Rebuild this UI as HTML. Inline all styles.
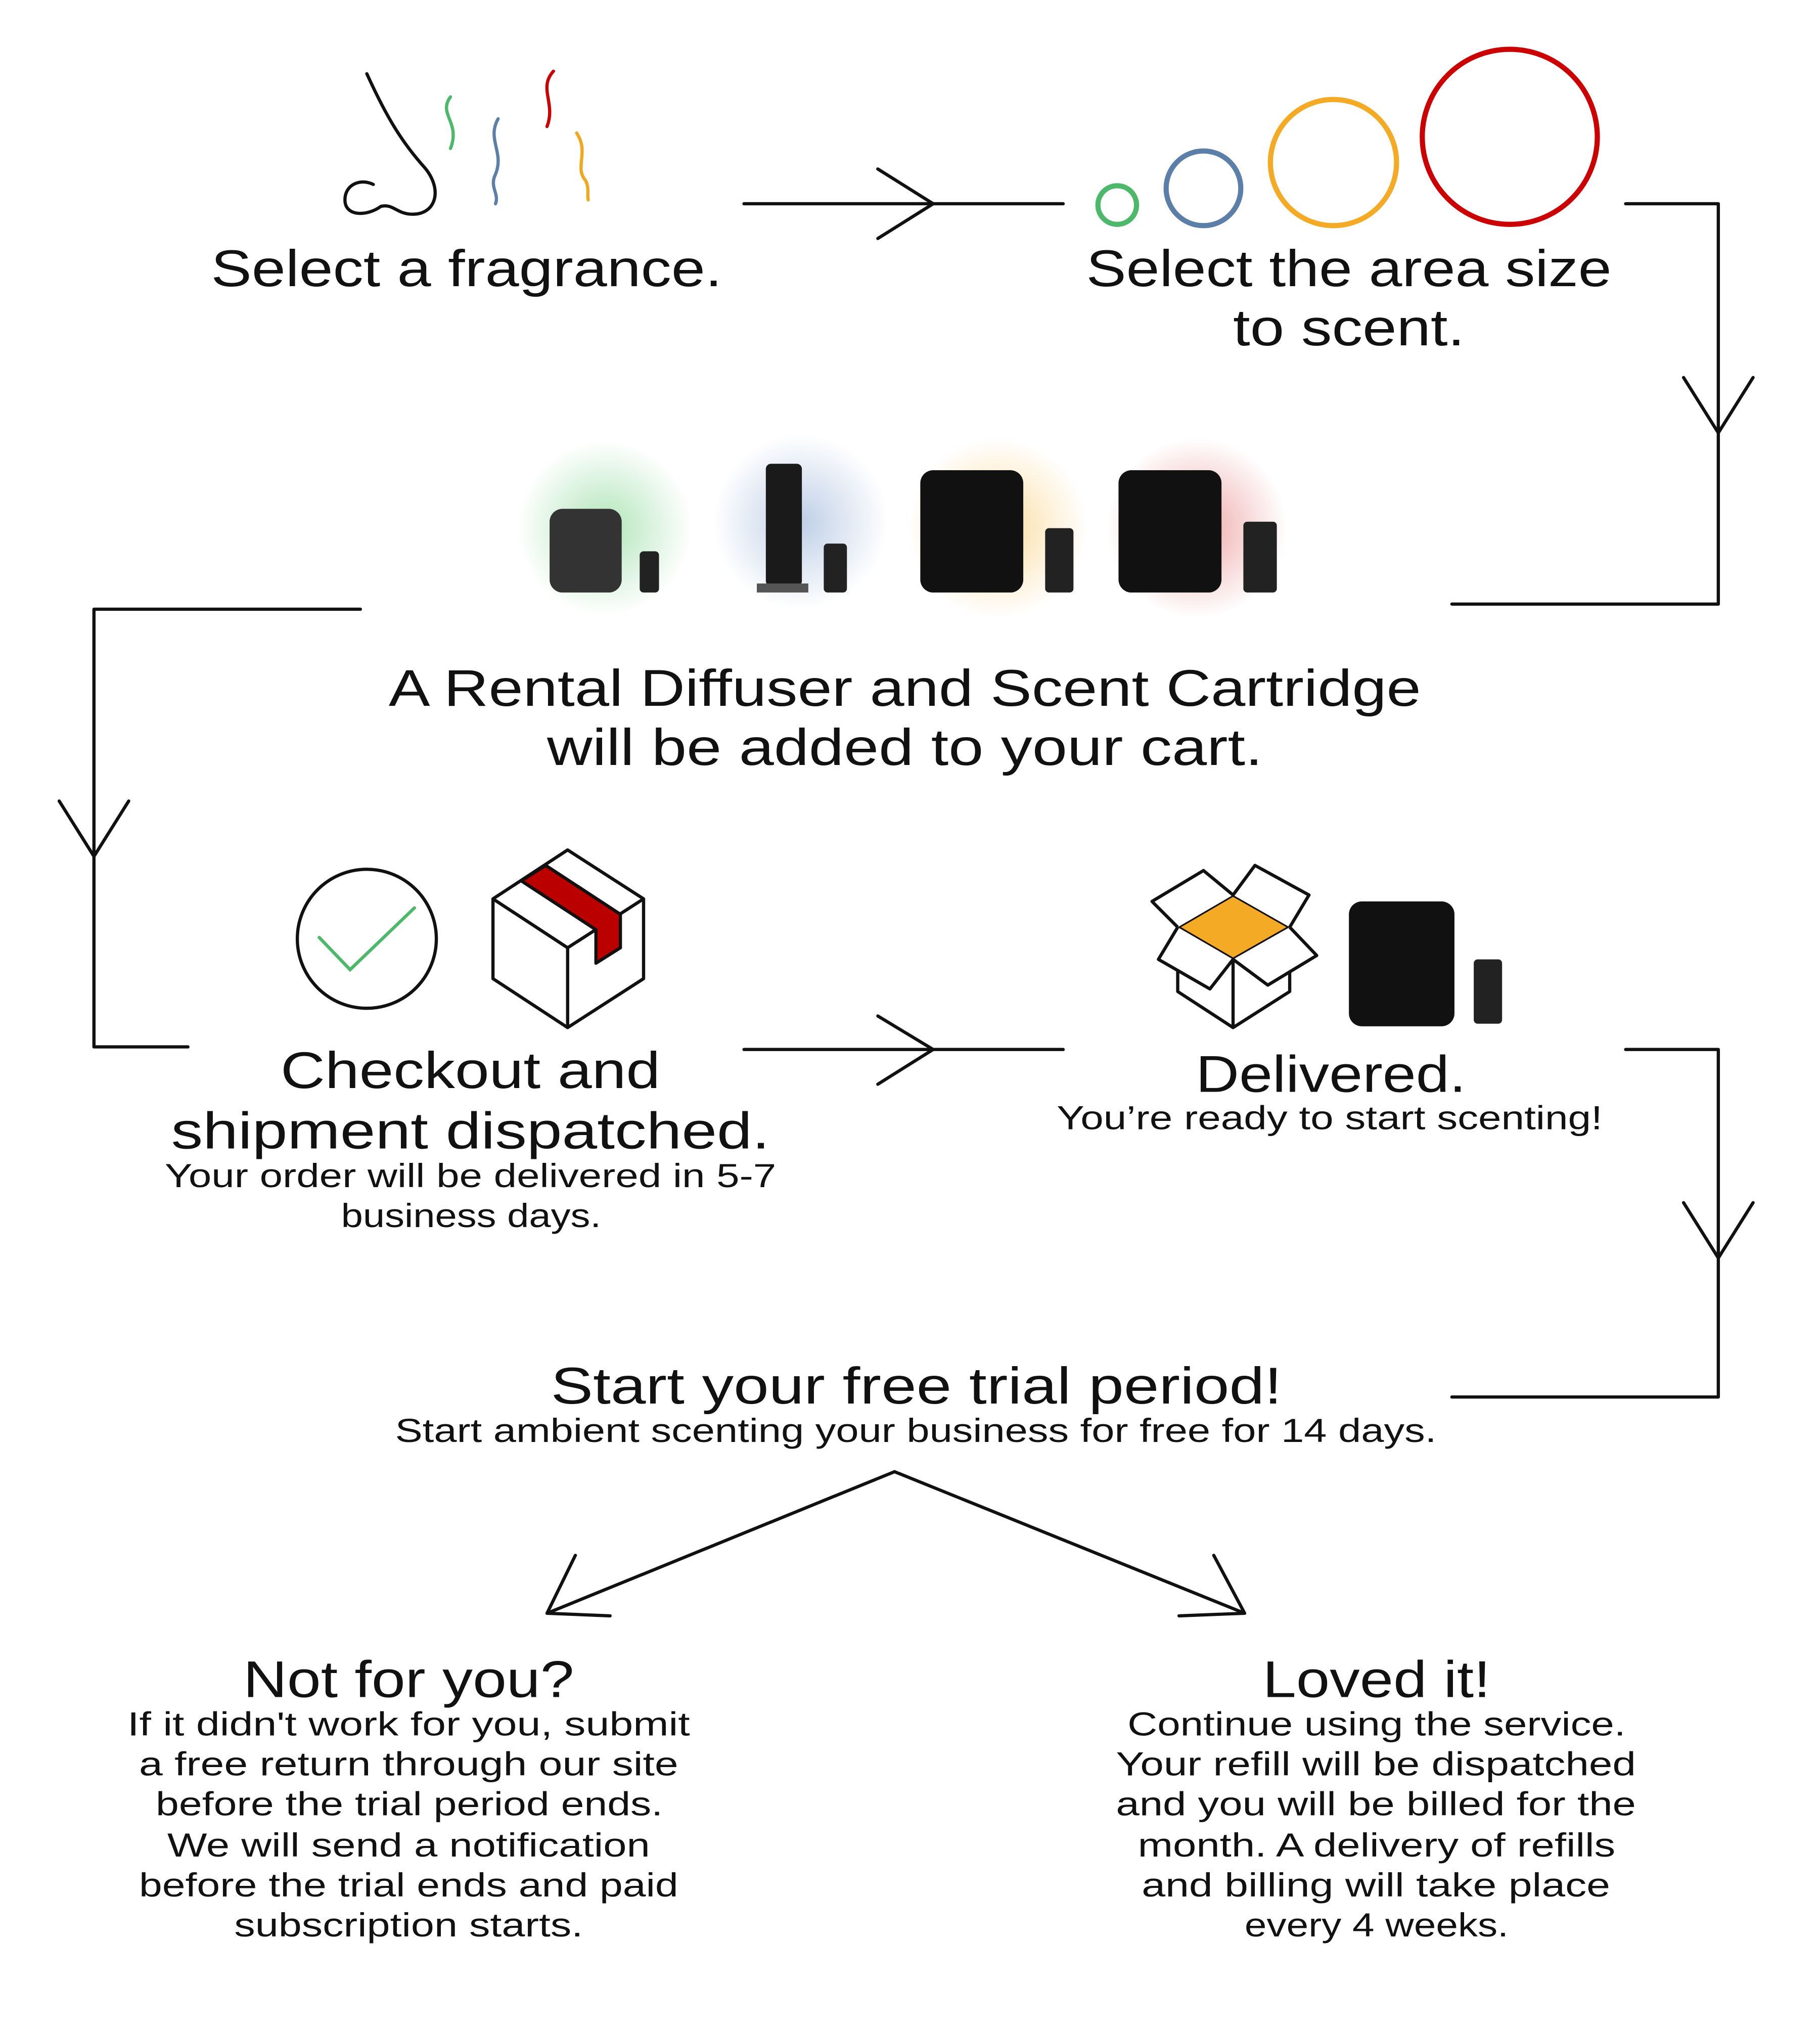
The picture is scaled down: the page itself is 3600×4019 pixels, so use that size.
<!DOCTYPE html>
<html><head><meta charset="utf-8"><style>
html,body{margin:0;padding:0;background:#fff;}
svg{display:block;}
text{font-family:"Liberation Sans",sans-serif;fill:#111;}
.h{font-size:40px;}
.s{font-size:26px;}
</style></head><body>
<svg width="3600" height="4019" viewBox="0 0 1414 1578" xmlns="http://www.w3.org/2000/svg">
<defs>
<radialGradient id="gG"><stop offset="0" stop-color="#6fcf7f" stop-opacity=".55"/><stop offset="1" stop-color="#6fcf7f" stop-opacity="0"/></radialGradient>
<radialGradient id="gB"><stop offset="0" stop-color="#7f9fcf" stop-opacity=".5"/><stop offset="1" stop-color="#7f9fcf" stop-opacity="0"/></radialGradient>
<radialGradient id="gO"><stop offset="0" stop-color="#f7c050" stop-opacity=".55"/><stop offset="1" stop-color="#f7c050" stop-opacity="0"/></radialGradient>
<radialGradient id="gR"><stop offset="0" stop-color="#e06060" stop-opacity=".55"/><stop offset="1" stop-color="#e06060" stop-opacity="0"/></radialGradient>
</defs>
<g fill="none" stroke="#111" stroke-width="2.5" stroke-linecap="round" stroke-linejoin="round">
<!-- nose -->
<path d="M285,57 C300,90 312,110 330,130 C345,148 338,168 318,166 C308,165 305,158 296,160 C285,168 268,168 268,155 C268,143 280,138 290,143"/>
<!-- arrows -->
<path d="M578,158 H826 M682,131 L725,158 L682,185"/>
<path d="M1263,158 H1335 V469 H1128 M1308,293 L1335,336 L1362,293"/>
<path d="M280,473 H73 V813 H146 M46,622 L73,665 L100,622"/>
<path d="M578,815 H826 M682,789 L725,815 L682,842"/>
<path d="M1263,815 H1335 V1085 H1128 M1308,934 L1335,977 L1362,934"/>
<path d="M695,1143 L425,1253 M447,1208 L425,1253 L474,1255"/>
<path d="M695,1143 L967,1253 M943,1208 L967,1253 L916,1255"/>
<!-- check -->
<circle cx="285" cy="729" r="54"/>
</g>
<g fill="none" stroke-width="2.5" stroke-linecap="round">
<path d="M350,75 C340,88 358,95 350,115" stroke="#4cb86a"/>
<path d="M387,92 C378,108 392,118 385,135 C380,145 388,150 385,158" stroke="#5b7fa8"/>
<path d="M430,55 C418,68 432,80 425,98" stroke="#c00"/>
<path d="M448,103 C458,118 446,130 455,140 C458,146 456,152 457,155" stroke="#f0a820"/>
<path d="M248,728 L272,753 L322,705" stroke="#4cb86a"/>
</g>
<g fill="none" stroke-width="4">
<circle cx="868" cy="159" r="15" stroke="#4cb86a"/>
<circle cx="935" cy="146" r="29" stroke="#5b7fa8"/>
<circle cx="1036" cy="126" r="49" stroke="#f5aa25"/>
<circle cx="1173" cy="106" r="68" stroke="#c00"/>
</g>
<!-- products -->
<circle cx="470" cy="410" r="68" fill="url(#gG)"/>
<circle cx="622" cy="405" r="68" fill="url(#gB)"/>
<circle cx="775" cy="410" r="70" fill="url(#gO)"/>
<circle cx="930" cy="410" r="70" fill="url(#gR)"/>
<rect x="427" y="395" width="56" height="65" rx="10" fill="#333"/>
<rect x="497" y="428" width="15" height="32" rx="3" fill="#222"/>
<rect x="595" y="360" width="28" height="95" rx="4" fill="#1a1a1a"/>
<rect x="588" y="453" width="40" height="7" fill="#555"/>
<rect x="640" y="422" width="18" height="38" rx="3" fill="#222"/>
<rect x="715" y="365" width="80" height="95" rx="10" fill="#111"/>
<rect x="812" y="410" width="22" height="50" rx="3" fill="#222"/>
<rect x="869" y="365" width="80" height="95" rx="10" fill="#111"/>
<rect x="966" y="405" width="26" height="55" rx="3" fill="#222"/>
<!-- closed box -->
<g stroke="#111" stroke-width="2.5" stroke-linejoin="round">
<path d="M383,698 L441,660 L500,698 L500,760 L441,798 L383,760 Z" fill="#fff"/>
<path d="M383,698 L441,736 L500,698 M441,736 V798" fill="none"/>
<path d="M405,684 L463,722 L463,748 L482,736 L482,710 L424,672 Z" fill="#b00"/>
</g>
<!-- open box -->
<g stroke="#111" stroke-width="2.5" stroke-linejoin="round">
<path d="M915,720 L958,695 L1002,720 L958,745 Z" fill="#f5aa25"/>
<path d="M915,720 V770 L958,798 L1002,770 V720 L958,745 Z" fill="#fff"/>
<path d="M958,745 V798" fill="none"/>
<path d="M915,720 L895,700 L935,676 L958,695" fill="#fff"/>
<path d="M958,695 L975,672 L1017,695 L1002,720" fill="#fff"/>
<path d="M915,720 L900,745 L940,768 L958,745" fill="#fff"/>
<path d="M1002,720 L1023,742 L985,765 L958,745" fill="#fff"/>
</g>
<rect x="1048" y="700" width="82" height="97" rx="10" fill="#111"/>
<rect x="1145" y="745" width="22" height="50" rx="3" fill="#222"/>
<!-- text -->
<text class="h" x="164" y="222" textLength="397" lengthAdjust="spacingAndGlyphs">Select a fragrance.</text>
<text class="h" x="844" y="222" textLength="408" lengthAdjust="spacingAndGlyphs">Select the area size</text>
<text class="h" x="958" y="268" textLength="180" lengthAdjust="spacingAndGlyphs">to scent.</text>
<text class="h" x="302" y="548" textLength="802" lengthAdjust="spacingAndGlyphs">A Rental Diffuser and Scent Cartridge</text>
<text class="h" x="425" y="594" textLength="556" lengthAdjust="spacingAndGlyphs">will be added to your cart.</text>
<text class="h" x="218" y="845" textLength="295" lengthAdjust="spacingAndGlyphs">Checkout and</text>
<text class="h" x="133" y="892" textLength="465" lengthAdjust="spacingAndGlyphs">shipment dispatched.</text>
<text class="s" x="128" y="922" textLength="475" lengthAdjust="spacingAndGlyphs">Your order will be delivered in 5-7</text>
<text class="s" x="265" y="953" textLength="202" lengthAdjust="spacingAndGlyphs">business days.</text>
<text class="h" x="929" y="848" textLength="210" lengthAdjust="spacingAndGlyphs">Delivered.</text>
<text class="s" x="821" y="877" textLength="424" lengthAdjust="spacingAndGlyphs">You’re ready to start scenting!</text>
<text class="h" x="428" y="1090" textLength="568" lengthAdjust="spacingAndGlyphs">Start your free trial period!</text>
<text class="s" x="307" y="1120" textLength="809" lengthAdjust="spacingAndGlyphs">Start ambient scenting your business for free for 14 days.</text>
<text class="h" x="189" y="1318" textLength="257" lengthAdjust="spacingAndGlyphs">Not for you?</text>
<text class="s" x="99" y="1348" textLength="437" lengthAdjust="spacingAndGlyphs">If it didn't work for you, submit</text>
<text class="s" x="108" y="1379" textLength="419" lengthAdjust="spacingAndGlyphs">a free return through our site</text>
<text class="s" x="121" y="1410" textLength="394" lengthAdjust="spacingAndGlyphs">before the trial period ends.</text>
<text class="s" x="130" y="1442" textLength="375" lengthAdjust="spacingAndGlyphs">We will send a notification</text>
<text class="s" x="108" y="1473" textLength="419" lengthAdjust="spacingAndGlyphs">before the trial ends and paid</text>
<text class="s" x="182" y="1504" textLength="271" lengthAdjust="spacingAndGlyphs">subscription starts.</text>
<text class="h" x="981" y="1318" textLength="177" lengthAdjust="spacingAndGlyphs">Loved it!</text>
<text class="s" x="876" y="1348" textLength="387" lengthAdjust="spacingAndGlyphs">Continue using the service.</text>
<text class="s" x="867" y="1379" textLength="404" lengthAdjust="spacingAndGlyphs">Your refill will be dispatched</text>
<text class="s" x="867" y="1410" textLength="404" lengthAdjust="spacingAndGlyphs">and you will be billed for the</text>
<text class="s" x="884" y="1442" textLength="371" lengthAdjust="spacingAndGlyphs">month. A delivery of refills</text>
<text class="s" x="887" y="1473" textLength="364" lengthAdjust="spacingAndGlyphs">and billing will take place</text>
<text class="s" x="967" y="1504" textLength="205" lengthAdjust="spacingAndGlyphs">every 4 weeks.</text>
</svg>
</body></html>
